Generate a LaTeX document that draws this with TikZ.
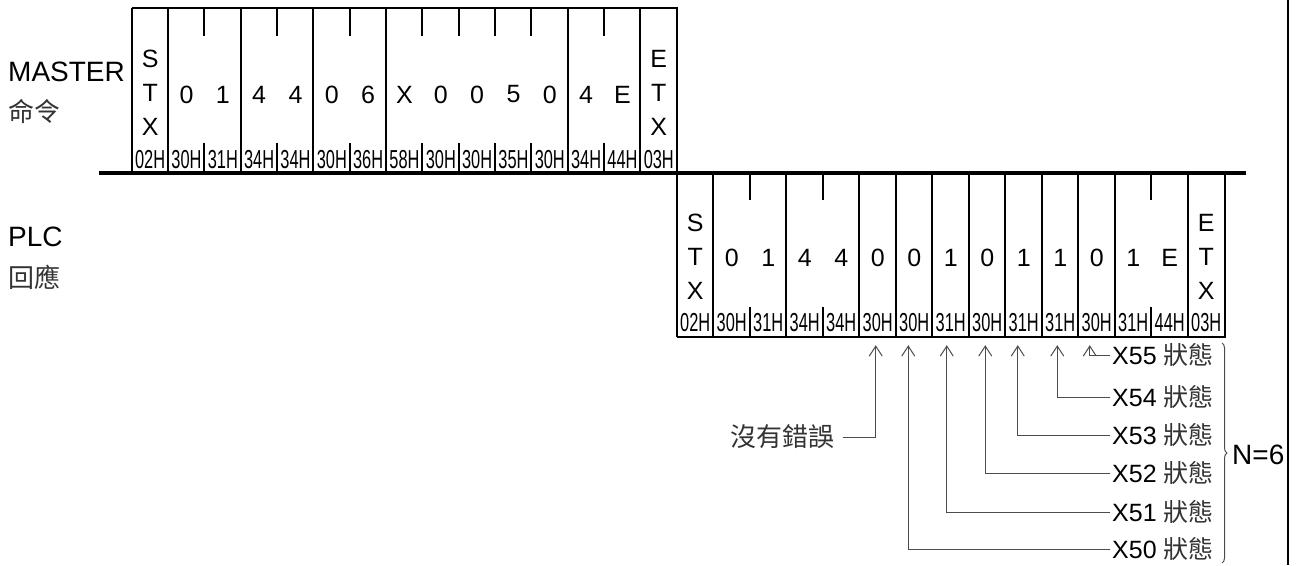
\documentclass[tikz,border=0pt]{standalone}
\usepackage{fontspec}
\setmainfont{Liberation Sans}
\newfontfamily\cjk{Noto Sans CJK TC}
\usepackage{graphicx}
\usepackage{tikz}
\usetikzlibrary{arrows,arrows.meta}
\usetikzlibrary{decorations.pathreplacing}

\newcommand{\hexl}[1]{\scalebox{0.63}[1]{#1}}
\newcommand{\zt}[1]{{\cjk\fontsize{25}{25}\selectfont\color{black!80}#1}}

\begin{document}
\begin{tikzpicture}[x=1pt,y=-1pt,>={Straight Barb[length=10pt,width=13pt,line width=1pt]},
	mcell/.style={minimum width=36.33pt, minimum height=165pt, inner sep=0pt},
	pcell/.style={minimum width=36.5pt, minimum height=164pt, inner sep=0pt},
	big/.style={font=\fontsize{25}{34}\selectfont, align=center, inner sep=0pt},
	hex/.style={font=\fontsize{26}{26}\selectfont, inner sep=0pt},
	side/.style={font=\fontsize{28}{28}\selectfont, anchor=west, inner sep=0pt},
	zh/.style={font=\cjk\fontsize{26}{26}\selectfont, text=black!80, inner sep=0pt},
	frame/.style={line width=2pt},
	pointer/.style={->, line width=1pt, draw=black!70},
	xlab/.style={font=\fontsize{25}{25}\selectfont, anchor=west, inner sep=2pt}]

	\useasboundingbox (0,0) rectangle (1303,565);

	\node[side] (master) at (8,72) {MASTER};
	\node[zh, anchor=west] (cmd) at (8,111) {命令};
	\node[side] (plc) at (8,237) {PLC};
	\node[zh, anchor=west] (reply) at (8,277) {回應};

	\foreach \c/\h [count=\i from 0] in {STX/02H,0/30H,1/31H,4/34H,4/34H,0/30H,6/36H,X/58H,0/30H,0/30H,5/35H,0/30H,4/34H,E/44H,ETX/03H}{
		\node[mcell] (m\i) at ({132+36.33*(\i+0.5)},90.5) {};
		\node[hex] (mh\i) at ([yshift=13.5pt]m\i.south) {\hexl{\h}};
	}
	\foreach \c [count=\i from 1] in {0,1,4,4,0,6,X,0,0,5,0,4,E}
		\node[big] (md\i) at ([yshift=-4pt]m\i.center) {\c};
	\node[big] (mstx) at ([yshift=-2pt]m0.center) {S\\T\\X};
	\node[big] (metx) at ([yshift=-2pt]m14.center) {E\\T\\X};

	\foreach \c/\h [count=\i from 0] in {STX/02H,0/30H,1/31H,4/34H,4/34H,0/30H,0/30H,1/31H,0/30H,1/31H,1/31H,0/30H,1/31H,E/44H,ETX/03H}{
		\node[pcell] (p\i) at ({677+36.5*(\i+0.5)},255) {};
		\node[hex] (ph\i) at ([yshift=15pt]p\i.south) {\hexl{\h}};
	}
	\foreach \c [count=\i from 1] in {0,1,4,4,0,0,1,0,1,1,0,1,E}
		\node[big] (pd\i) at ([yshift=-2.5pt]p\i.center) {\c};
	\node[big] (pstx) at ([yshift=-2pt]p0.center) {S\\T\\X};
	\node[big] (petx) at ([yshift=-2pt]p14.center) {E\\T\\X};

	\draw[frame] (m0.north west) -- (m14.north east) -- (m14.south east);
	\foreach \i in {0,1,3,5,7,12,14}
		\draw[frame] (m\i.north west) -- (m\i.south west);
	\foreach \i in {2,4,6,8,9,10,11,13}{
		\draw[frame] (m\i.north west) -- ++(0,28);
		\draw[frame] (m\i.south west) -- ++(0,-30);
	}

	\draw[frame] (p0.south west) -- (p14.south east) -- (p14.north east);
	\foreach \i in {0,1,3,5,6,7,8,9,10,11,12,14}
		\draw[frame] (p\i.north west) -- (p\i.south west);
	\foreach \i in {2,4,13}{
		\draw[frame] (p\i.north west) -- ++(0,27);
		\draw[frame] (p\i.south west) -- ++(0,-30);
	}

	\coordinate (lineA) at (99,173);
	\coordinate (lineB) at (1246,173);
	\draw[line width=3.5pt] (lineA) -- (lineB);

	\node[zh, anchor=east, inner xsep=8pt] (noerr) at (843,437) {沒有錯誤};
	\draw[pointer] (noerr.east) -| ([xshift=-2pt,yshift=-8pt]p5.south);

	\foreach \n/\c/\s/\y in {55/11/-7/355,54/10/-3/397,53/9/-6/435,52/8/-2/473,51/7/-4/512,50/6/-6/549}{
		\node[xlab] (x\n) at (1110,\y) {X\n\ \zt{狀態}};
		\draw[pointer] (x\n.west) -| ([xshift=\s pt,yshift=-8pt]p\c.south);
	}

	\coordinate (braceA) at (1222,343);
	\coordinate (braceB) at (1222,563);
	\draw[line width=1pt, draw=black!70, decorate, decoration={brace, amplitude=5pt}] (braceA) -- (braceB);
	\node[side, font=\fontsize{28}{28}\selectfont] (nsix) at (1232,455) {N=6};

	\coordinate (edgeA) at (1288,0);
	\coordinate (edgeB) at (1288,565);
	\draw[line width=2pt] (edgeA) -- (edgeB);
\end{tikzpicture}
\end{document}
